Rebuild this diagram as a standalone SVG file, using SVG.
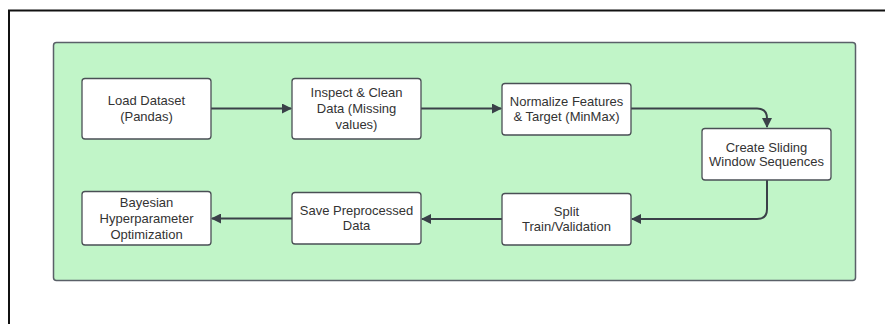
<svg xmlns="http://www.w3.org/2000/svg" width="885" height="324" viewBox="0 0 885 324">
<defs>
<style>
.node rect{fill:#ffffff;stroke:#4a4f55;stroke-width:1.3}
.node text{font-family:"Liberation Sans",Arial,sans-serif;font-size:13px;fill:#333333;text-anchor:middle}
.conn path{fill:none;stroke:#3a4048;stroke-width:2}
</style>
<marker id="ah" viewBox="0 0 10 10" refX="9" refY="5" markerWidth="5" markerHeight="5" orient="auto" markerUnits="strokeWidth">
<path d="M0,0 L10,5 L0,10 z" fill="#3a4048"/>
</marker>
</defs>
<rect x="0" y="0" width="885" height="324" fill="#ffffff"/>
<rect id="frame" x="9" y="10.5" width="900" height="400" fill="none" stroke="#111111" stroke-width="2"/>
<rect id="container" x="53.5" y="42.5" width="802" height="238" rx="3" fill="#c1f5c8" stroke="#5a6068" stroke-width="1.5"/>
<g id="connectors" class="conn">
<path d="M211,108.5 H291" marker-end="url(#ah)"/>
<path d="M421,108.5 H501" marker-end="url(#ah)"/>
<path d="M631,108.5 H757 Q767,108.5 767,118.5 V127" marker-end="url(#ah)"/>
<path d="M767,180 V209 Q767,219 757,219 H632" marker-end="url(#ah)"/>
<path d="M502,219 H422" marker-end="url(#ah)"/>
<path d="M292,218.5 H212" marker-end="url(#ah)"/>
</g>
<g id="n1" class="node"><rect x="82" y="78.5" width="129" height="60.5" rx="3"/><text x="146.5" y="105">Load Dataset</text><text x="146.5" y="121">(Pandas)</text></g>
<g id="n2" class="node"><rect x="292" y="78.5" width="129" height="60.5" rx="3"/><text x="356.5" y="96.5">Inspect &amp; Clean</text><text x="356.5" y="112.5">Data (Missing</text><text x="356.5" y="128.5">values)</text></g>
<g id="n3" class="node"><rect x="502" y="83.5" width="129" height="51.5" rx="3"/><text x="566.5" y="106">Normalize Features</text><text x="566.5" y="121">&amp; Target (MinMax)</text></g>
<g id="n4" class="node"><rect x="702" y="128.5" width="129" height="51.5" rx="3"/><text x="766.5" y="152">Create Sliding</text><text x="766.5" y="166">Window Sequences</text></g>
<g id="n5" class="node"><rect x="502" y="193.5" width="129" height="51.5" rx="3"/><text x="566.5" y="216">Split</text><text x="566.5" y="231">Train/Validation</text></g>
<g id="n6" class="node"><rect x="292" y="192.5" width="129" height="51.5" rx="3"/><text x="356.5" y="215">Save Preprocessed</text><text x="356.5" y="230">Data</text></g>
<g id="n7" class="node"><rect x="82" y="191.5" width="129" height="53.5" rx="3"/><text x="146.5" y="207">Bayesian</text><text x="146.5" y="223">Hyperparameter</text><text x="146.5" y="239">Optimization</text></g>
</svg>
